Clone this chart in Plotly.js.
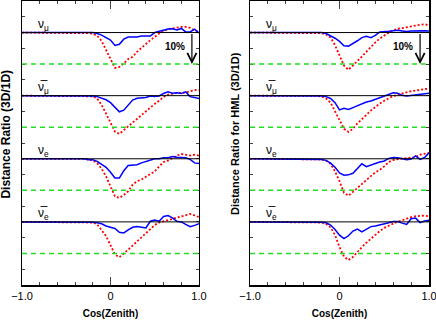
<!DOCTYPE html>
<html>
<head>
<meta charset="utf-8">
<script src="https://cdn.plot.ly/plotly-3.0.1.min.js"></script>
<style>
  html, body { margin: 0; padding: 0; background: #fff; }
  #grafico { width: 436px; height: 320px; }
</style>
</head>
<body>
<div id="grafico"></div>
<script>
const cosZenith = [-1.0, -0.3, -0.25, -0.2, -0.15, -0.1, -0.05, 0.0, 0.05, 0.1, 0.15, 0.2, 0.25, 0.3,
    0.35, 0.4, 0.45, 0.5, 0.55, 0.6, 0.65, 0.7, 0.75, 0.8, 0.85, 0.9, 0.95, 1.0];

// Left panel: Distance Ratio (3D/1D)
const numuBlue = [1.0, 1.0, 1.0, 1.0, 0.997, 0.992, 0.984, 0.976, 0.959, 0.963, 0.979, 0.986, 0.986, 0.986, 0.989, 0.989, 0.989, 1.0, 1.004, 1.006, 1.011, 1.012, 1.008, 1.013, 1.002, 1.002, 1.011, 0.999];
const numuRed = [1.0, 1.0, 0.998, 0.996, 0.990, 0.973, 0.944, 0.913, 0.888, 0.891, 0.902, 0.916, 0.923, 0.939, 0.952, 0.962, 0.976, 0.986, 0.997, 1.004, 1.011, 1.013, 1.016, 1.018, 1.018, 1.015, 1.007, 1.002];
const numubarBlue = [1.0, 1.0, 1.0, 0.999, 0.997, 0.993, 0.987, 0.978, 0.963, 0.949, 0.954, 0.970, 0.986, 0.992, 0.993, 0.994, 0.999, 0.997, 0.999, 1.007, 1.012, 1.008, 1.009, 1.007, 1.012, 0.997, 0.994, 0.991];
const numubarRed = [1.0, 1.0, 0.999, 0.998, 0.991, 0.970, 0.943, 0.912, 0.886, 0.879, 0.891, 0.904, 0.917, 0.928, 0.940, 0.953, 0.963, 0.974, 0.984, 0.996, 1.003, 1.007, 1.009, 1.009, 1.010, 1.014, 1.018, 1.017];
const nueBlue = [1.0, 1.0, 0.997, 0.997, 0.992, 0.983, 0.973, 0.957, 0.939, 0.939, 0.962, 0.979, 0.981, 0.981, 0.987, 0.992, 0.996, 1.0, 1.0, 1.003, 1.003, 1.007, 1.005, 1.003, 1.003, 0.998, 0.987, 0.985];
const nueRed = [1.0, 1.0, 0.997, 0.995, 0.986, 0.968, 0.944, 0.910, 0.881, 0.876, 0.885, 0.897, 0.918, 0.929, 0.934, 0.943, 0.952, 0.960, 0.976, 0.990, 0.994, 1.002, 1.010, 1.015, 1.013, 1.010, 1.013, 1.010];
const nuebarBlue = [1.0, 1.0, 1.0, 0.999, 0.997, 0.994, 0.987, 0.983, 0.979, 0.967, 0.965, 0.975, 0.983, 0.985, 0.984, 0.981, 1.002, 1.006, 1.002, 1.017, 1.020, 1.013, 1.002, 1.0, 0.992, 0.985, 0.989, 0.994];
const nuebarRed = [1.0, 1.0, 1.0, 0.998, 0.992, 0.975, 0.955, 0.926, 0.897, 0.888, 0.899, 0.912, 0.925, 0.938, 0.950, 0.965, 0.977, 0.990, 0.998, 1.002, 1.006, 1.010, 1.013, 1.016, 1.021, 1.025, 1.021, 1.015];

// Right panel: Distance Ratio for HML (3D/1D)
const numuBlueHML = [1.0, 1.0, 1.0, 1.0, 0.997, 0.990, 0.982, 0.972, 0.958, 0.957, 0.965, 0.974, 0.984, 0.988, 0.984, 0.991, 1.002, 1.002, 1.004, 1.006, 1.007, 1.005, 1.003, 1.005, 1.006, 1.005, 1.006, 1.005];
const numuRedHML = [1.0, 1.0, 1.0, 0.998, 0.994, 0.984, 0.960, 0.929, 0.895, 0.882, 0.895, 0.910, 0.924, 0.939, 0.955, 0.969, 0.981, 0.992, 1.0, 1.007, 1.012, 1.014, 1.017, 1.020, 1.023, 1.025, 1.026, 1.024];
const numubarBlueHML = [1.0, 1.0, 1.0, 0.999, 0.997, 0.991, 0.978, 0.955, 0.960, 0.956, 0.962, 0.968, 0.975, 0.980, 0.983, 0.988, 0.993, 0.998, 1.002, 1.009, 1.008, 1.001, 0.999, 1.001, 1.003, 1.004, 1.006, 1.008];
const numubarRedHML = [1.0, 1.0, 0.999, 0.997, 0.991, 0.978, 0.949, 0.920, 0.895, 0.885, 0.895, 0.912, 0.924, 0.939, 0.953, 0.965, 0.975, 0.984, 0.992, 0.999, 1.003, 1.007, 1.012, 1.014, 1.016, 1.019, 1.021, 1.022];
const nueBlueHML = [1.0, 1.0, 1.0, 0.998, 0.995, 0.986, 0.973, 0.955, 0.948, 0.949, 0.954, 0.969, 0.984, 0.975, 0.981, 0.985, 0.990, 0.993, 1.001, 1.004, 1.003, 1.001, 0.997, 0.999, 1.009, 0.998, 1.004, 1.019];
const nueRedHML = [1.0, 1.0, 1.0, 0.998, 0.994, 0.984, 0.960, 0.929, 0.892, 0.883, 0.895, 0.908, 0.922, 0.934, 0.945, 0.957, 0.965, 0.976, 0.990, 0.996, 0.999, 1.001, 1.002, 1.004, 1.005, 1.013, 1.017, 1.019];
const nuebarBlueHML = [1.0, 1.0, 1.0, 0.999, 0.997, 0.990, 0.976, 0.958, 0.947, 0.956, 0.971, 0.977, 0.968, 0.977, 0.985, 0.987, 0.990, 0.992, 0.997, 1.001, 1.001, 0.996, 0.992, 1.010, 1.012, 0.998, 1.003, 1.005];
const nuebarRedHML = [1.0, 1.0, 1.0, 0.998, 0.993, 0.983, 0.958, 0.920, 0.890, 0.879, 0.889, 0.906, 0.920, 0.934, 0.947, 0.960, 0.971, 0.981, 0.988, 0.996, 1.001, 1.005, 1.011, 1.015, 1.018, 1.019, 1.020, 1.018];

const flavourLabels = ['ν<sub>μ</sub>', 'ν\u0305<sub>μ</sub>', 'ν<sub>e</sub>', 'ν\u0305<sub>e</sub>'];
// vertical offset of each stacked flavour (ratio 1.0 sits here)
const offsets = [0.8, 0.6, 0.4, 0.2];

const panels = [
    { xa: 'x', ya: 'y', blue: [numuBlue, numubarBlue, nueBlue, nuebarBlue], red: [numuRed, numubarRed, nueRed, nuebarRed], arrowX: 0.92,
      title: '<b>Distance Ratio (3D/1D)</b>', titleX: 0.013, titleSize: 12 },
    { xa: 'x2', ya: 'y2', blue: [numuBlueHML, numubarBlueHML, nueBlueHML, nuebarBlueHML], red: [numuRedHML, numubarRedHML, nueRedHML, nuebarRedHML], arrowX: 0.9,
      title: '<b>Distance Ratio for HML (3D/1D)</b>', titleX: 0.539, titleSize: 11 }
];

const fuente = 'Liberation Sans, Arial, Helvetica, sans-serif';
const data = [];
const shapes = [];
const annotations = [];

panels.forEach(p => {
    offsets.forEach((off, k) => {
        shapes.push({ type: 'line', xref: p.xa, yref: p.ya, x0: -1, x1: 1, y0: off, y1: off,
            line: { color: '#000', width: 1 } });
        shapes.push({ type: 'line', xref: p.xa, yref: p.ya, x0: -1, x1: 1, y0: off - 0.1, y1: off - 0.1,
            line: { color: '#22dd22', width: 1.5, dash: '5px,4px' } });
        data.push({
            x: cosZenith, y: p.red[k].map(v => v - 1 + off), xaxis: p.xa, yaxis: p.ya,
            mode: 'lines', type: 'scatter', line: { color: '#ff0000', width: 1.8, dash: '2px,2px' }
        });
        data.push({
            x: cosZenith, y: p.blue[k].map(v => v - 1 + off), xaxis: p.xa, yaxis: p.ya,
            mode: 'lines', type: 'scatter', line: { color: '#0000ff', width: 1.5 }
        });
        annotations.push({ xref: p.xa, yref: p.ya, x: -0.84, y: off, xanchor: 'left', yanchor: 'bottom',
            yshift: -2, showarrow: false, text: flavourLabels[k], font: { family: fuente, size: 12, color: '#000' } });
    });
    // 10% arrow
    annotations.push({ xref: p.xa, yref: p.ya, x: p.arrowX, y: offsets[0] - 0.1, axref: p.xa, ayref: p.ya,
        ax: p.arrowX, ay: offsets[0], text: '', showarrow: true, arrowhead: 5, arrowsize: 1.5, arrowwidth: 1.2, arrowcolor: '#000' });
    annotations.push({ xref: p.xa, yref: p.ya, x: p.arrowX - 0.06, y: offsets[0] - 0.044, xanchor: 'right', yanchor: 'middle',
        showarrow: false, text: '<b>10%</b>', font: { family: fuente, size: 10, color: '#000' } });
    annotations.push({ xref: 'paper', yref: 'paper', x: p.titleX, y: 0.532, xanchor: 'center', yanchor: 'middle',
        textangle: -90, showarrow: false, text: p.title, font: { family: fuente, size: p.titleSize, color: '#000' } });
});

const ejeX = (domain, anchor) => ({
    domain: domain, anchor: anchor, range: [-1, 1], showgrid: false, zeroline: false,
    showline: true, linewidth: 1.5, linecolor: '#000', mirror: 'ticks',
    ticks: 'inside', tickvals: [-1, 0, 1], ticktext: ['\u22121.0', '0', '1.0'], ticklen: 8, tickwidth: 1.2,
    tickfont: { family: fuente, size: 11, color: '#000' }, ticklabeloverflow: 'allow',
    minor: { dtick: 0.2, ticks: 'inside', ticklen: 3, tickwidth: 1, showgrid: false },
    title: { text: '<b>Cos(Zenith)</b>', font: { family: fuente, size: 10, color: '#000' }, standoff: 9 }
});
const ejeY = (anchor) => ({
    domain: [0, 1], anchor: anchor, range: [0, 0.9], showgrid: false, zeroline: false,
    showline: true, linewidth: 1.5, linecolor: '#000', mirror: 'ticks',
    ticks: 'inside', tick0: 0, dtick: 0.05, ticklen: 3, tickwidth: 1, showticklabels: false
});

const layout = {
    width: 436, height: 320,
    margin: { l: 0, r: 0, t: 1, b: 35 },
    paper_bgcolor: '#fff', plot_bgcolor: '#fff',
    showlegend: false,
    xaxis: ejeX([0.0505, 0.4564], 'y'),
    yaxis: ejeY('x'),
    xaxis2: ejeX([0.5734, 0.984], 'y2'),
    yaxis2: ejeY('x2'),
    shapes: shapes,
    annotations: annotations
};

Plotly.newPlot('grafico', data, layout, { displayModeBar: false, staticPlot: true });
</script>
</body>
</html>
